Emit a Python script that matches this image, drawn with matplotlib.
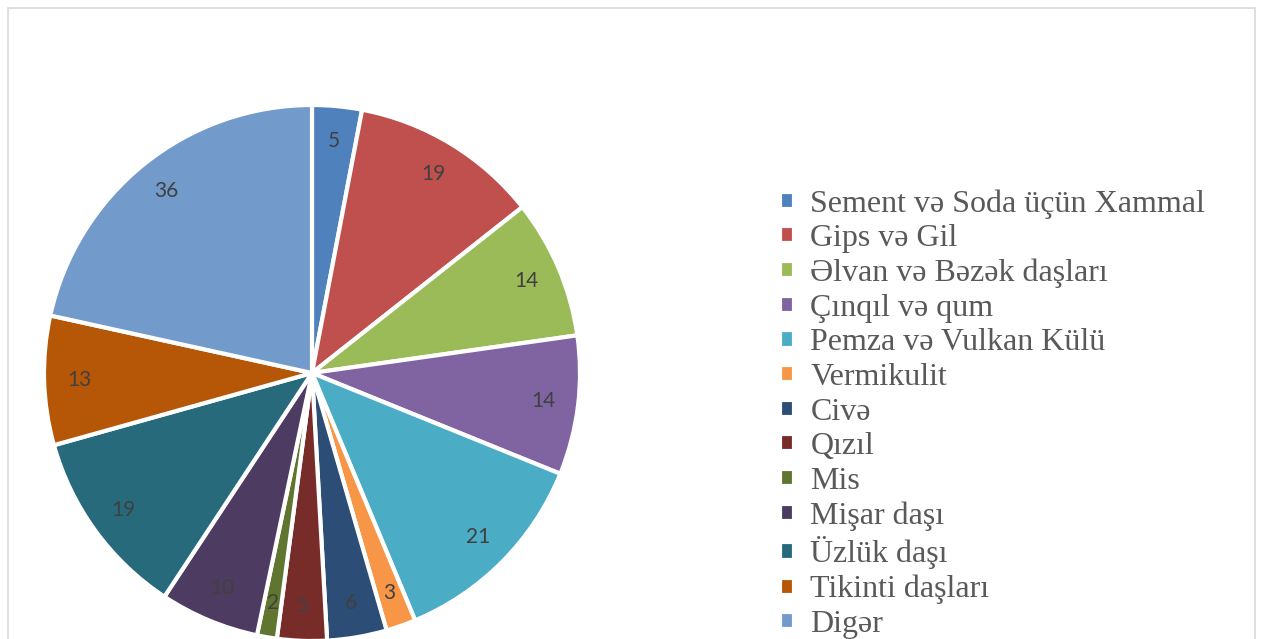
import matplotlib
matplotlib.use("Agg")
import matplotlib.pyplot as plt
from matplotlib.patches import Rectangle

CATEGORIES = [
    "Sement və Soda üçün Xammal", "Gips və Gil", "Əlvan və Bəzək daşları",
    "Çınqıl və qum", "Pemza və Vulkan Külü", "Vermikulit", "Civə", "Qızıl",
    "Mis", "Mişar daşı", "Üzlük daşı", "Tikinti daşları", "Digər",
]
VALUES = [5, 19, 14, 14, 21, 3, 6, 5, 2, 10, 19, 13, 36]
COLORS = [
    "#4F81BD", "#C0504D", "#9BBB59", "#8064A2", "#4BACC6", "#F79646",
    "#2C4D75", "#772C2A", "#5F7530", "#4D3B62", "#276A7C", "#B65708",
    "#729ACA",
]

W, H = 1263, 639
fig = plt.figure(figsize=(W / 100, H / 100), dpi=100)

# chart area border
fig.patches.append(Rectangle((8 / W, -0.05), 1247 / W, (H - 8) / H + 0.05,
                             transform=fig.transFigure, fill=False,
                             edgecolor="#D9D9D9", linewidth=1.2))

cx, cy, r = 312, 373, 268
ax = fig.add_axes([(cx - r) / W, (H - cy - r) / H, 2 * r / W, 2 * r / H])
total = sum(VALUES)
wedges, _, autotexts = ax.pie(
    VALUES, colors=COLORS, startangle=90, counterclock=False,
    autopct=lambda p: f"{round(p * total / 100)}", pctdistance=0.87,
    wedgeprops=dict(edgecolor="white", linewidth=3),
    textprops=dict(color="#404040", fontsize=15, family="Lato"),
)
ax.set_xlim(-1, 1)
ax.set_ylim(-1, 1)
ax.set_aspect("equal")
ax.axis("off")

fig.legend(wedges, CATEGORIES, loc="upper left",
           bbox_to_anchor=(780 / W, 1 - 189 / H), frameon=False,
           prop=dict(family="Liberation Serif", size=23),
           labelcolor="#595959", handlelength=0.45, handleheight=0.45,
           handletextpad=0.5, labelspacing=0.175, borderaxespad=0,
           borderpad=0)

fig.savefig("out.png", dpi=100)
